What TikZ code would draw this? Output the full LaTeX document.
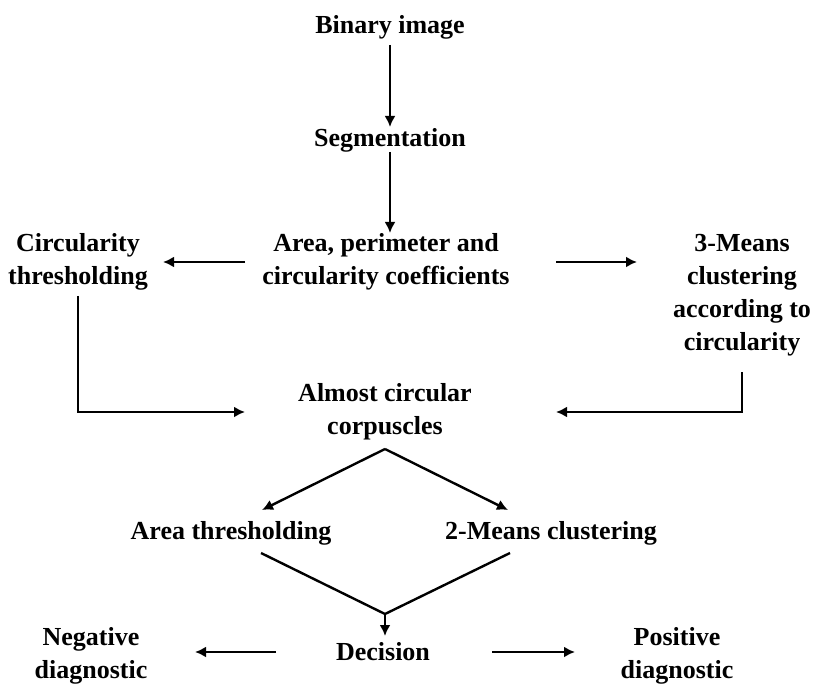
\documentclass[tikz,border=0pt]{standalone}
\usepackage{fontspec}
\setmainfont{Liberation Serif}
\usetikzlibrary{arrows.meta}

\begin{document}
\begin{tikzpicture}[x=1pt,y=-1pt,line width=2.4pt,>={Latex[length=11pt,width=11pt]}]
        \useasboundingbox (0,0) rectangle (813,684);

        \begin{scope}[every node/.append style={align=center,inner sep=1pt,font=\fontsize{26}{33}\selectfont\bfseries}]
            \node (bin) at (390,27) {Binary image};
            \node (seg) at (390,140) {Segmentation};

            \node (area) at (386,262) {Area, perimeter and\\circularity coefficients};
            \node (circ) at (78,262) {Circularity\\thresholding};
            \node (km3) at (742,295) {3-Means\\clustering\\according to\\circularity};

            \node (almost) at (385,412) {Almost circular\\corpuscles};

            \node (athr) at (231,533) {Area thresholding};
            \node (km2) at (551,533) {2-Means clustering};

            \node (dec) at (383,652) {Decision};
            \node (neg) at (91,656) {Negative\\diagnostic};
            \node (pos) at (677,656) {Positive\\diagnostic};
        \end{scope}

        \coordinate (top) at (385,449);
        \coordinate (join) at (385,614);

        \draw[->,shorten <=18pt,shorten >=13pt] (bin.center) -- (seg.center);
        \draw[->,shorten <=12pt,shorten >=29pt] (seg.center) -- (seg.center |- area.center);

        \draw[->,shorten <=141pt,shorten >=85pt] (area.center) -- (circ.center);
        \draw[->,shorten <=170pt,shorten >=105pt] (area.center) -- (area.center -| km3.center);

        \draw[->,shorten <=34pt,shorten >=140pt] (circ.center) |- (almost.center);
        \draw[->,shorten <=77pt,shorten >=171pt] (km3.center) |- (almost.center);

        \draw[->] (top) -- ([shift={(31pt,23pt)}]athr.center);
        \draw[->] (top) -- ([shift={(-43pt,23pt)}]km2.center);
        \draw ([shift={(30pt,-20pt)}]athr.center) -- (join) -- ([shift={(-41pt,-20pt)}]km2.center);
        \draw[->,shorten >=16pt] (join) -- (join |- dec.center);

        \draw[->,shorten <=107pt,shorten >=104pt] (dec.center) -- (dec.center -| neg.center);
        \draw[->,shorten <=109pt,shorten >=102pt] (dec.center) -- (dec.center -| pos.center);
    \end{tikzpicture}
\end{document}
